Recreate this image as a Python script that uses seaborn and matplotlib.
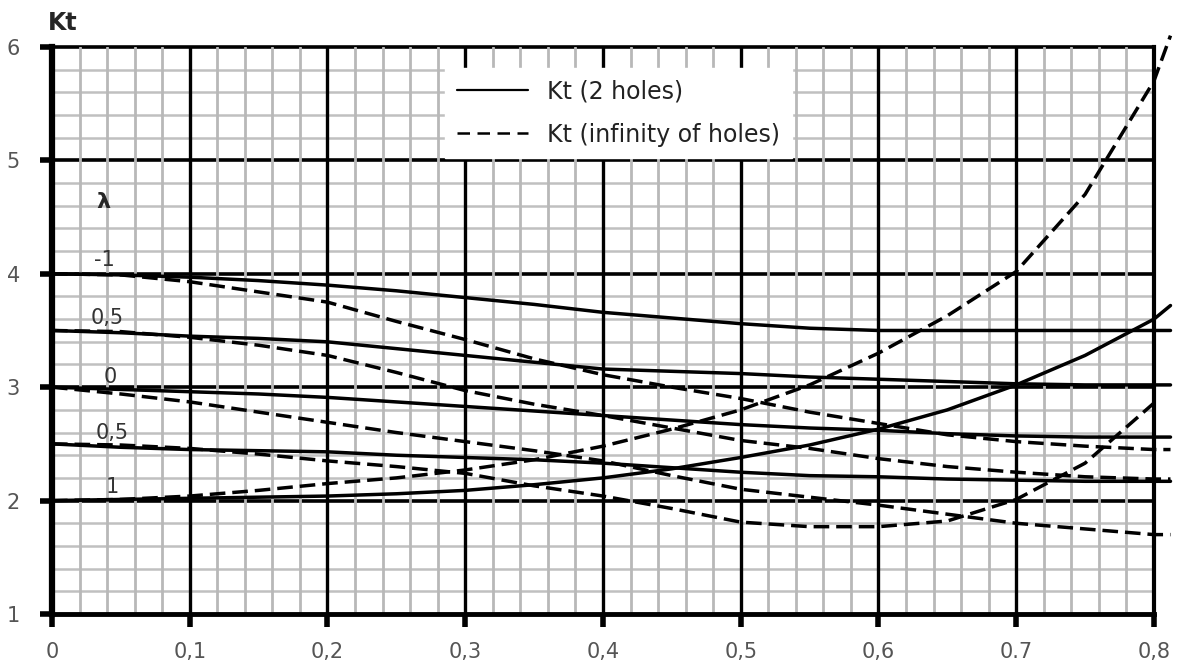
"""Abaque Kt : coefficient de concentration, 2 trous vs infinité de trous."""

import numpy as np
import pandas as pd
import matplotlib
matplotlib.use("Agg")
import matplotlib.pyplot as plt
from matplotlib.lines import Line2D
import seaborn as sns

d_ratio = [0, 0.05, 0.1, 0.15, 0.2, 0.25, 0.3, 0.35, 0.4, 0.45,
           0.5, 0.55, 0.6, 0.65, 0.7, 0.75, 0.8, 0.812]

# Kt (2 holes) - traits pleins
kt2_lm1 = [4.0, 3.99, 3.97, 3.94, 3.90, 3.85, 3.79, 3.73, 3.66, 3.61,
           3.56, 3.52, 3.50, 3.50, 3.50, 3.50, 3.50, 3.50]
kt2_lm05 = [3.5, 3.48, 3.45, 3.43, 3.40, 3.34, 3.28, 3.22, 3.16, 3.14,
            3.12, 3.09, 3.07, 3.05, 3.03, 3.02, 3.02, 3.02]
kt2_l0 = [3.0, 2.98, 2.96, 2.94, 2.91, 2.87, 2.83, 2.79, 2.75, 2.71,
          2.67, 2.64, 2.62, 2.59, 2.57, 2.56, 2.56, 2.56]
kt2_l05 = [2.5, 2.47, 2.45, 2.44, 2.43, 2.40, 2.38, 2.36, 2.33, 2.29,
           2.25, 2.22, 2.21, 2.19, 2.18, 2.17, 2.17, 2.17]
kt2_l1 = [2.0, 2.01, 2.02, 2.03, 2.04, 2.06, 2.09, 2.14, 2.20, 2.28,
          2.38, 2.49, 2.63, 2.80, 3.02, 3.28, 3.60, 3.72]

# Kt (infinity of holes) - tirets
ktinf_lm1 = [4.0, 3.99, 3.93, 3.84, 3.75, 3.58, 3.42, 3.25, 3.11, 3.0,
             2.9, 2.78, 2.68, 2.58, 2.52, 2.48, 2.45, 2.45]
ktinf_lm05 = [3.5, 3.49, 3.44, 3.37, 3.28, 3.13, 2.97, 2.85, 2.75, 2.64,
              2.53, 2.46, 2.37, 2.30, 2.25, 2.21, 2.19, 2.19]
ktinf_l0 = [3.0, 2.94, 2.87, 2.78, 2.69, 2.60, 2.52, 2.44, 2.35, 2.22,
            2.10, 2.03, 1.96, 1.88, 1.80, 1.75, 1.70, 1.70]
ktinf_l05 = [2.5, 2.49, 2.46, 2.41, 2.35, 2.30, 2.24, 2.13, 2.04, 1.93,
             1.81, 1.77, 1.77, 1.82, 2.01, 2.33, 2.86, 2.86]
ktinf_l1 = [2.0, 2.01, 2.04, 2.09, 2.15, 2.20, 2.27, 2.36, 2.48, 2.63,
            2.80, 3.02, 3.30, 3.63, 4.02, 4.70, 5.70, 6.10]

lam_names = ["-1", "-0,5", "0", "0,5", "1"]
lam_labels = ["-1", "0,5", "0", "0,5", "1"]
lam_label_pos = [(0.038, 4.12), (0.040, 3.61), (0.042, 3.09), (0.044, 2.60), (0.044, 2.12)]

x_ticks = [0, 0.1, 0.2, 0.3, 0.4, 0.5, 0.6, 0.7, 0.8]
x_tick_labels = ["0", "0,1", "0,2", "0,3", "0,4", "0,5", "0,6", "0.7", "0,8"]
y_ticks = [1, 2, 3, 4, 5, 6]

series_2 = [kt2_lm1, kt2_lm05, kt2_l0, kt2_l05, kt2_l1]
series_inf = [ktinf_lm1, ktinf_lm05, ktinf_l0, ktinf_l05, ktinf_l1]

rows = []
for lam, s2, si in zip(lam_names, series_2, series_inf):
    for d, v in zip(d_ratio, s2):
        rows.append({"d": d, "kt": v, "lam": lam, "type": "2 holes"})
    for d, v in zip(d_ratio, si):
        if lam == "0,5" and d > 0.8:
            continue
        rows.append({"d": d, "kt": v, "lam": lam, "type": "infinity"})
df = pd.DataFrame(rows)

sns.set_theme(style="white")
plt.rcParams["font.family"] = ["DejaVu Sans"]

fig = plt.figure(figsize=(11.81, 6.70), dpi=100)
ax = fig.add_axes([0.044, 0.0836, 0.9331, 0.8463])

# papier millimétré
for x in np.arange(0.02, 0.8, 0.02):
    if round(x * 50) % 5:
        ax.axvline(x, color="#b8b8b8", lw=2.0, zorder=1.5)
for y in np.arange(1.2, 6, 0.2):
    if round(y * 5) % 5:
        ax.axhline(y, color="#c0c0c0", lw=1.8, zorder=1)
for y in range(2, 7):
    ax.axhline(y, color="black", lw=2.6, zorder=1.2, clip_on=False)
for x in np.arange(0.1, 0.75, 0.1):
    ax.axvline(x, color="black", lw=2.4, zorder=2)

sns.lineplot(
    data=df, x="d", y="kt", hue="lam", style="type",
    palette={k: "black" for k in lam_names},
    dashes={"2 holes": "", "infinity": (4.5, 2)},
    linewidth=2.5, legend=False, estimator=None, ax=ax, zorder=3,
)
for line in ax.lines:
    if line.get_zorder() == 3:
        line.set_clip_on(False)

ax.set_xlim(0, 0.8)
ax.set_ylim(1, 6)
ax.set_xticks(x_ticks, x_tick_labels)
ax.set_yticks(y_ticks)
ax.set_xlabel("")
ax.set_ylabel("")
ax.tick_params(axis="both", which="major", direction="out", length=9, width=4,
               color="black", labelcolor="#555555", labelsize=15,
               bottom=True, left=True)
ax.tick_params(axis="y", pad=14)
ax.tick_params(axis="x", pad=11)

ax.spines["top"].set_visible(False)
ax.spines["left"].set_linewidth(4.5)
ax.spines["bottom"].set_linewidth(3.5)
ax.spines["right"].set_linewidth(3.0)
for s in ("left", "bottom", "right"):
    ax.spines[s].set_color("black")
    ax.spines[s].set_zorder(4)

ax.text(-0.004, 1.03, "Kt", transform=ax.transAxes, fontsize=17,
        fontweight="bold", ha="left", va="baseline")
ax.text(0.037, 4.63, "λ", fontsize=16, fontweight="bold", ha="center", va="center")
for lab, (x, y) in zip(lam_labels, lam_label_pos):
    ax.text(x, y, lab, fontsize=15, color="#333333", ha="center", va="center", zorder=4)

handles = [Line2D([], [], color="black", lw=1.6),
           Line2D([], [], color="black", lw=1.8, dashes=(5, 3))]
leg = ax.legend(handles, ["Kt (2 holes)", "Kt (infinity of holes)"],
                loc="upper left", bbox_to_anchor=(0.357, 0.963), borderaxespad=0,
                frameon=True, fancybox=False, facecolor="white", edgecolor="white",
                framealpha=1, fontsize=17, handlelength=3.0, handletextpad=0.8,
                labelspacing=0.8, borderpad=0.5)
for t in leg.get_texts():
    t.set_color("#222222")
leg.set_zorder(5)

fig.savefig("out.png", dpi=100)
